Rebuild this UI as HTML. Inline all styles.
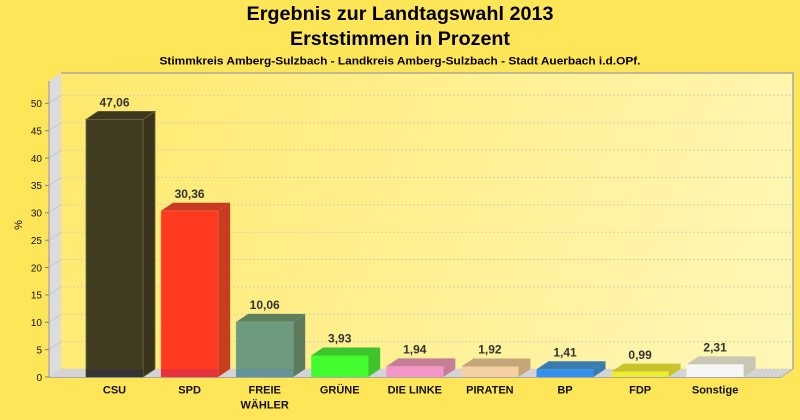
<!DOCTYPE html>
<html><head><meta charset="utf-8"><style>
html,body{margin:0;padding:0;background:#FFE658;}
svg{display:block;}
text{font-family:"Liberation Sans",Arial,sans-serif;}
</style></head><body>
<svg width="800" height="420" viewBox="0 0 800 420" xmlns="http://www.w3.org/2000/svg">
<defs>
<linearGradient id="wall" x1="61" y1="73" x2="793" y2="369" gradientUnits="userSpaceOnUse">
<stop offset="0" stop-color="#FFE96C"/><stop offset="1" stop-color="#FFF7B8"/>
</linearGradient>
</defs>
<rect x="0" y="0" width="800" height="420" fill="#FFE658"/>
<!-- titles -->
<text x="400" y="20" font-size="19" font-weight="bold" text-anchor="middle" textLength="307" lengthAdjust="spacingAndGlyphs">Ergebnis zur Landtagswahl 2013</text>
<text x="400" y="45" font-size="19" font-weight="bold" text-anchor="middle" textLength="220" lengthAdjust="spacingAndGlyphs">Erststimmen in Prozent</text>
<text x="400" y="64.5" font-size="11" font-weight="bold" text-anchor="middle" textLength="481" lengthAdjust="spacingAndGlyphs">Stimmkreis Amberg-Sulzbach - Landkreis Amberg-Sulzbach - Stadt Auerbach i.d.OPf.</text>

<!-- back wall -->
<rect x="61" y="73" width="732" height="296" fill="url(#wall)"/>
<polyline points="61,73 793,73 793,369" fill="none" stroke="#A8A8A0" stroke-width="1.5"/>
<!-- side panel -->
<polygon points="49,81 61,73 61,369 49,377" fill="#DCDCDC"/>
<!-- floor -->
<polygon points="49,377 61,369 793,369 781,377" fill="#D4D4D4"/>
<line x1="49" y1="377.5" x2="781" y2="377.5" stroke="#A8A8A8" stroke-width="1"/>
<line x1="781" y1="377.5" x2="793" y2="369" stroke="#B0B0B0" stroke-width="1"/>
<line x1="49" y1="81" x2="49" y2="377.5" stroke="#A0A0A0" stroke-width="1.2"/>

<!-- gridlines -->
<g stroke="#D6D0B0" stroke-width="1" stroke-dasharray="2,2" fill="none">
<line x1="61" y1="369" x2="793" y2="369"/>
<line x1="61" y1="341.6" x2="793" y2="341.6"/>
<line x1="61" y1="314.3" x2="793" y2="314.3"/>
<line x1="61" y1="286.9" x2="793" y2="286.9"/>
<line x1="61" y1="259.5" x2="793" y2="259.5"/>
<line x1="61" y1="232.2" x2="793" y2="232.2"/>
<line x1="61" y1="204.8" x2="793" y2="204.8"/>
<line x1="61" y1="177.4" x2="793" y2="177.4"/>
<line x1="61" y1="150.1" x2="793" y2="150.1"/>
<line x1="61" y1="122.7" x2="793" y2="122.7"/>
<line x1="61" y1="95.3" x2="793" y2="95.3"/>
</g>
<g stroke="#C8C8C8" stroke-width="1" fill="none">
<line x1="49" y1="349.6" x2="61" y2="341.6"/>
<line x1="49" y1="322.3" x2="61" y2="314.3"/>
<line x1="49" y1="294.9" x2="61" y2="286.9"/>
<line x1="49" y1="267.5" x2="61" y2="259.5"/>
<line x1="49" y1="240.2" x2="61" y2="232.2"/>
<line x1="49" y1="212.8" x2="61" y2="204.8"/>
<line x1="49" y1="185.4" x2="61" y2="177.4"/>
<line x1="49" y1="158.1" x2="61" y2="150.1"/>
<line x1="49" y1="130.7" x2="61" y2="122.7"/>
<line x1="49" y1="103.3" x2="61" y2="95.3"/>
</g>

<!-- ticks -->
<g stroke="#808080" stroke-width="1">
<line x1="45" y1="377" x2="49" y2="377"/>
<line x1="45" y1="349.6" x2="49" y2="349.6"/>
<line x1="45" y1="322.3" x2="49" y2="322.3"/>
<line x1="45" y1="294.9" x2="49" y2="294.9"/>
<line x1="45" y1="267.5" x2="49" y2="267.5"/>
<line x1="45" y1="240.2" x2="49" y2="240.2"/>
<line x1="45" y1="212.8" x2="49" y2="212.8"/>
<line x1="45" y1="185.4" x2="49" y2="185.4"/>
<line x1="45" y1="158.1" x2="49" y2="158.1"/>
<line x1="45" y1="130.7" x2="49" y2="130.7"/>
<line x1="45" y1="103.3" x2="49" y2="103.3"/>
</g>
<g font-size="10" text-anchor="end" fill="#111">
<text x="42" y="380.8">0</text>
<text x="42" y="353.4">5</text>
<text x="42" y="326.1">10</text>
<text x="42" y="298.7">15</text>
<text x="42" y="271.3">20</text>
<text x="42" y="244">25</text>
<text x="42" y="216.6">30</text>
<text x="42" y="189.2">35</text>
<text x="42" y="161.9">40</text>
<text x="42" y="134.5">45</text>
<text x="42" y="107.1">50</text>
</g>
<text x="0" y="0" font-size="11" text-anchor="middle" fill="#111" transform="translate(22,225) rotate(-90)">%</text>

<!-- bars -->
<!-- CSU -->
<polygon points="143,119.4 155,111.4 155,369 143,377" fill="#3A341C" stroke="#66623E" stroke-width="0.8"/>
<polygon points="86,119.4 98,111.4 155,111.4 143,119.4" fill="#3D371E" stroke="#66623E" stroke-width="0.8"/>
<rect x="86" y="119.4" width="57" height="257.6" fill="#423C20" stroke="#6E6A48" stroke-width="0.8"/>
<rect x="86" y="369" width="57" height="8" fill="#363534"/>
<!-- SPD -->
<polygon points="218.1,210.8 230.1,202.8 230.1,369 218.1,377" fill="#C83C20"/>
<polygon points="161.1,210.8 173.1,202.8 230.1,202.8 218.1,210.8" fill="#C63C22"/>
<rect x="161.1" y="210.8" width="57" height="166.2" fill="#FF3A20" stroke="#FF6A40" stroke-width="0.6"/>
<rect x="161.1" y="369" width="57" height="8" fill="#E8323C"/>
<!-- FREIE WAEHLER -->
<polygon points="293.2,321.9 305.2,313.9 305.2,369 293.2,377" fill="#5E7A5E"/>
<polygon points="236.2,321.9 248.2,313.9 305.2,313.9 293.2,321.9" fill="#5E7E5E"/>
<rect x="236.2" y="321.9" width="57" height="55.1" fill="#6E9A7E" stroke="#80A888" stroke-width="0.6"/>
<rect x="236.2" y="369" width="57" height="8" fill="#64949A"/>
<!-- GRUENE -->
<polygon points="368.2,355.5 380.2,347.5 380.2,369 368.2,377" fill="#3CC42C"/>
<polygon points="311.2,355.5 323.2,347.5 380.2,347.5 368.2,355.5" fill="#3CC42C"/>
<rect x="311.2" y="355.5" width="57" height="21.5" fill="#42FC2E"/>
<!-- LINKE -->
<polygon points="443.3,366.4 455.3,358.4 455.3,369 443.3,377" fill="#C47E96"/>
<polygon points="386.3,366.4 398.3,358.4 455.3,358.4 443.3,366.4" fill="#C47E96"/>
<rect x="386.3" y="366.4" width="57" height="10.6" fill="#F596C8"/>
<!-- PIRATEN -->
<polygon points="518.4,366.5 530.4,358.5 530.4,369 518.4,377" fill="#C4A67A"/>
<polygon points="461.4,366.5 473.4,358.5 530.4,358.5 518.4,366.5" fill="#C4A67A"/>
<rect x="461.4" y="366.5" width="57" height="10.5" fill="#F6D0A2"/>
<!-- BP -->
<polygon points="593.5,369.3 605.5,361.3 605.5,369 593.5,377" fill="#3A7CB0"/>
<polygon points="536.5,369.3 548.5,361.3 605.5,361.3 593.5,369.3" fill="#3A7CB0"/>
<rect x="536.5" y="369.3" width="57" height="7.7" fill="#3291EE"/>
<!-- FDP -->
<polygon points="668.6,371.6 680.6,363.6 680.6,369 668.6,377" fill="#C6C42A"/>
<polygon points="611.6,371.6 623.6,363.6 680.6,363.6 668.6,371.6" fill="#C6C42A"/>
<rect x="611.6" y="371.6" width="57" height="5.4" fill="#F0EE30"/>
<!-- Sonstige -->
<polygon points="743.6,364.4 755.6,356.4 755.6,369 743.6,377" fill="#C8C6B4"/>
<polygon points="686.6,364.4 698.6,356.4 755.6,356.4 743.6,364.4" fill="#C8C6B4"/>
<rect x="686.6" y="364.4" width="57" height="12.6" fill="#F6F6F4"/>

<!-- value labels -->
<g font-size="12" font-weight="bold" fill="#333" text-anchor="middle">
<text x="114.5" y="106.6">47,06</text>
<text x="189.6" y="198">30,36</text>
<text x="264.7" y="309">10,06</text>
<text x="339.7" y="342.6">3,93</text>
<text x="414.8" y="353.5">1,94</text>
<text x="489.9" y="353.6">1,92</text>
<text x="565" y="356.6">1,41</text>
<text x="640.1" y="358.8">0,99</text>
<text x="715.1" y="351.6">2,31</text>
</g>

<!-- category labels -->
<g font-size="11" font-weight="bold" fill="#111" text-anchor="middle">
<text x="114.5" y="393.5">CSU</text>
<text x="189.6" y="393.5">SPD</text>
<text x="264.7" y="393.5">FREIE</text>
<text x="264.7" y="408.5">WÄHLER</text>
<text x="339.7" y="393.5">GRÜNE</text>
<text x="414.8" y="393.5">DIE LINKE</text>
<text x="489.9" y="393.5">PIRATEN</text>
<text x="565" y="393.5">BP</text>
<text x="640.1" y="393.5">FDP</text>
<text x="715.1" y="393.5">Sonstige</text>
</g>
</svg>
</body></html>
